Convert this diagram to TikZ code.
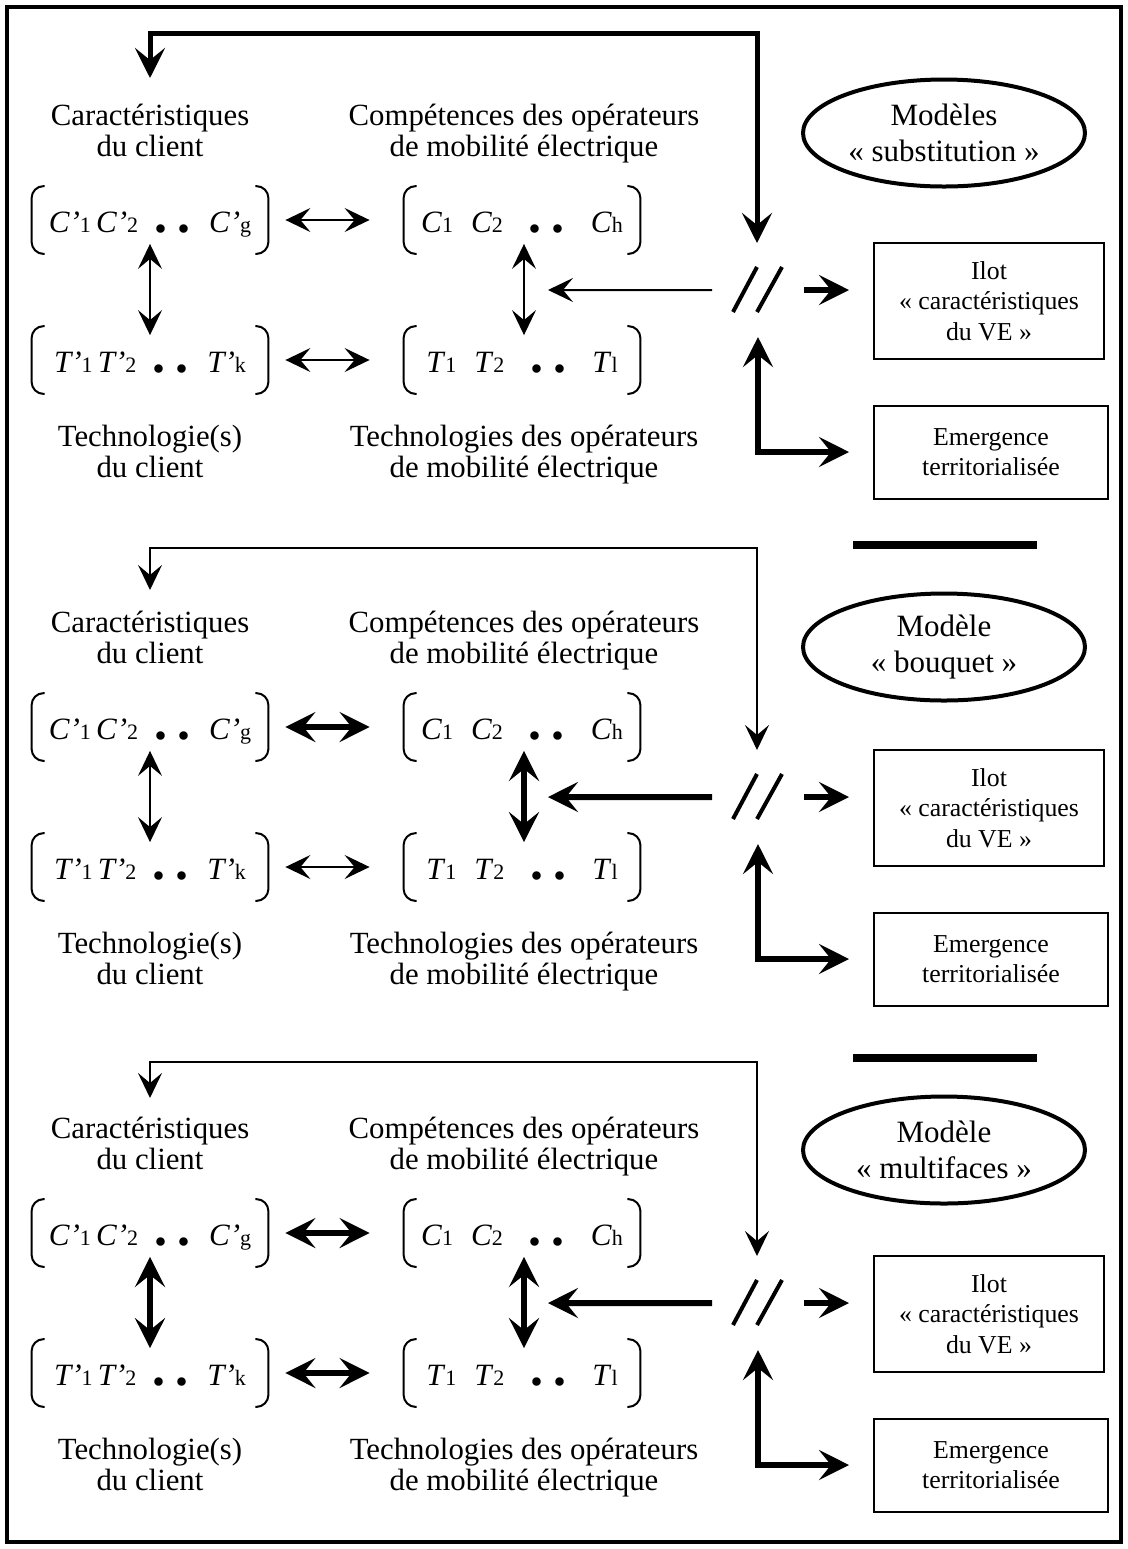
\documentclass[tikz,border=0pt]{standalone}
\usepackage{fontspec}
\setmainfont{Liberation Serif}
\usetikzlibrary{positioning,shapes.geometric,arrows.meta,calc}
% fonts and pieces of the little matrices
\newcommand\labfont{\fontsize{15.4}{15.4}\selectfont\lineskiplimit=-20pt\relax}
\newcommand\msub[1]{{\fontsize{11}{11}\selectfont #1}}
\newcommand\mdot{{\fontsize{26}{26}\selectfont\bfseries .}}
\newcommand\prow[2]{\textit{#1’}\msub{1}\,\textit{#1’}\msub{2}\hspace{8pt}\mdot\hspace{5pt}\mdot\hspace{9.5pt}\textit{#1’}\msub{#2}}
\newcommand\orow[2]{\textit{#1}\msub{1}\hspace{9pt}\textit{#1}\msub{2}\hspace{13pt}\mdot\hspace{5pt}\mdot\hspace{13pt}\textit{#1}\msub{#2}}
\tikzset{
  Sm/.tip = {Stealth[length=12.5pt,width=12pt,inset=5pt]},
  Lg/.tip = {Stealth[length=15pt,width=15pt,inset=6pt]},
  % --- nodes
  lab/.style  = {align=center, inner sep=0pt, anchor=north, font=\labfont},
  mdl/.style  = {ellipse, draw, line width=2pt, minimum width=141pt, minimum height=53.5pt,
                 align=center, inner sep=0pt, font=\fontsize{15.5}{18}\selectfont},
  sq/.style   = {draw, line width=1pt, align=center, inner sep=0pt,
                 font=\fontsize{12.9}{15.2}\selectfont},
  mx/.style   = {minimum width=118pt, minimum height=33.5pt, inner sep=0pt,
                 text height=12pt, text depth=0pt, font=\fontsize{15.5}{15.5}\selectfont},
  brk/.style  = {line width=1pt, rounded corners=6pt},
  % --- edges
  tw/.style   = {line width=1pt, Sm-Sm},
  tk/.style   = {line width=3pt, Lg-Lg},
  ow/.style   = {line width=1pt, -Sm},
  ok/.style   = {line width=3pt, -Lg},
  fbk/.style  = {line width=2.5pt, Lg-Lg},
  slash/.style= {line width=2pt},
  bar/.style  = {line width=4pt},
  frame/.style= {line width=2pt},
}
\begin{document}
\begin{tikzpicture}[x=0.5pt,y=-0.5pt]
  \useasboundingbox (0,0) rectangle (1128,1549);
  \draw[frame] (7,7) rectangle (1121,1542);
  \foreach \o/\fy/\fl/\ey/\tA/\tB/\tC/\tD/\tE/\tF/\mtxt [count=\i] in {
      0/33/78/133/tw/tw/tw/tw/ow/fbk/{Modèles\\« substitution »},
      507/548/590/647/tk/tw/tw/tk/ok/tw/{Modèle\\« bouquet »},
      1013/1062/1098/1150/tk/tk/tk/tk/ok/tw/{Modèle\\« multifaces »}}{
    \node[lab] (cc\i) at (150,\o+104) {Caractéristiques\\du client};
    \node[lab] (co\i) at (524,\o+104) {Compétences des opérateurs\\de mobilité électrique};
    \node[mdl] (md\i) at (944,\ey) {\mtxt};
    \node[mx] (mc\i) at (150,\o+220) {\prow{C}{g}};
    \node[mx] (mo\i) at (522,\o+220) {\orow{C}{h}};
    \node[mx] (mt\i) at (150,\o+360) {\prow{T}{k}};
    \node[mx] (mu\i) at (522,\o+360) {\orow{T}{l}};
    \node[lab] (tc\i) at (150,\o+425) {Technologie(s)\\du client};
    \node[lab] (tu\i) at (524,\o+425) {Technologies des opérateurs\\de mobilité électrique};
    \node[sq, minimum width=115pt, minimum height=58pt] (il\i) at (989,\o+301)
      {Ilot\\« caractéristiques\\du VE »};
    \node[sq, minimum width=117pt, minimum height=46.5pt] (em\i) at (991,\o+452)
      {Emergence\\territorialisée};
    \coordinate (sl\i) at (757,\o+290);
    \coordinate (vm\i) at ($(mo\i.south)!0.5!(mu\i.north)$);
    \coordinate (fl\i) at (150,\fl);
    \coordinate (ft\i) at (150,\fy);
    % brackets
    \foreach \m in {mc,mo,mt,mu}
      \draw[brk] ([xshift=6.5pt]\m\i.north west) -- (\m\i.north west) -- (\m\i.south west) -- ([xshift=6.5pt]\m\i.south west)
                 ([xshift=-6.5pt]\m\i.north east) -- (\m\i.north east) -- (\m\i.south east) -- ([xshift=-6.5pt]\m\i.south east);
    % the // mark
    \draw[slash] ([shift={(-24,22)}]sl\i) -- ([shift={(0,-23)}]sl\i)
                 ([shift={(0,22)}]sl\i) -- ([shift={(25,-23)}]sl\i);
    % links
    \draw[\tA] ([xshift=8.5pt]mc\i.east) -- ([xshift=-17pt]mo\i.west);
    \draw[\tB] ([xshift=8.5pt]mt\i.east) -- ([xshift=-17pt]mu\i.west);
    \draw[\tC] ([yshift=5pt]mc\i.south) -- ([yshift=-4.5pt]mt\i.north);
    \draw[\tD] ([xshift=1pt,yshift=5pt]mo\i.south) -- ([xshift=1pt,yshift=-4.5pt]mu\i.north);
    \draw[\tE] ([xshift=-22.5pt]sl\i) -- ([xshift=13pt]vm\i);
    \draw[\tF] (fl\i) -- (ft\i) -| ([yshift=23.5pt]sl\i);
    \draw[ok] ([xshift=23.5pt]sl\i) -- ([xshift=-12pt]il\i.west |- sl\i);
    \draw[tk] ([xshift=0.5pt,yshift=-23.5pt]sl\i) |- ([xshift=-12pt]em\i.west);
  }
  \draw[bar] (853,545) -- (1037,545);
  \draw[bar] (853,1058) -- (1037,1058);
\end{tikzpicture}
\end{document}
